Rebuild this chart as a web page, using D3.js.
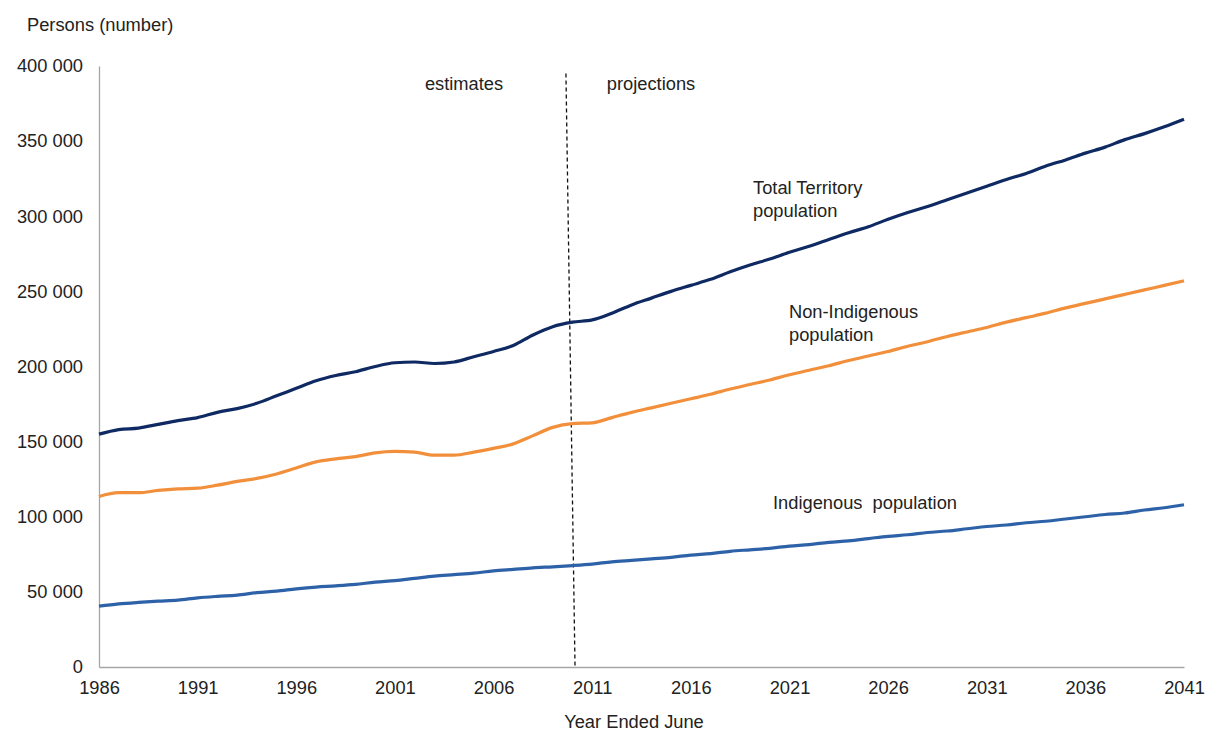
<!DOCTYPE html>
<html>
<head>
<meta charset="utf-8">
<script src="https://cdn.jsdelivr.net/npm/d3@7"></script>
<style>
  html, body { margin: 0; padding: 0; background: #fff; }
  svg { display: block; font-family: "Liberation Sans", Arial, sans-serif; }
</style>
</head>
<body>
<svg id="chart" width="1206" height="733"></svg>
<script>
// ---- data (persons, thousands) ----
const years = d3.range(1986, 2042);
const totalPop = [
  155.0, 158.0, 159.0, 161.5, 164.0, 166.0, 169.5, 172.0, 175.5, 180.5,
  185.5, 190.5, 194.0, 196.5, 200.0, 202.5, 203.0, 202.0, 203.0, 206.5,
  210.0, 214.0, 221.0, 226.5, 229.5, 231.0, 235.5, 241.0, 245.5, 250.0,
  254.0, 258.0, 263.0, 267.5, 271.5, 276.0, 280.0, 284.5, 289.0, 293.0,
  298.0, 302.5, 306.5, 311.0, 315.5, 320.0, 324.5, 328.5, 333.5, 337.5,
  342.0, 346.0, 351.0, 355.0, 359.5, 364.5
];
const nonIndigenousPop = [
  113.5, 116.0, 116.0, 117.5, 118.5, 119.0, 121.0, 123.5, 125.5, 128.5,
  132.5, 136.5, 138.5, 140.0, 142.5, 143.5, 143.0, 141.0, 141.0, 143.0,
  145.5, 148.5, 154.0, 159.5, 162.0, 162.5, 166.0, 169.5, 172.5, 175.5,
  178.5, 181.5, 185.0, 188.0, 191.0, 194.5, 197.5, 200.5, 204.0, 207.0,
  210.0, 213.5, 216.5, 220.0, 223.0, 226.0, 229.5, 232.5, 235.5, 239.0,
  242.0, 245.0, 248.0, 251.0, 254.0, 257.0
];
const indigenousPop = [
  40.5, 42.0, 43.0, 43.8, 44.5, 46.0, 47.0, 47.8, 49.5, 50.5,
  52.0, 53.2, 54.0, 55.0, 56.5, 57.5, 59.0, 60.5, 61.5, 62.5,
  64.0, 65.0, 66.0, 66.7, 67.5, 68.5, 70.0, 71.0, 72.0, 73.0,
  74.5, 75.5, 77.0, 78.0, 79.0, 80.5, 81.5, 83.0, 84.0, 85.5,
  87.0, 88.0, 89.5, 90.5, 92.0, 93.5, 94.5, 96.0, 97.0, 98.5,
  100.0, 101.5, 102.5, 104.5, 106.0, 108.0
];
const xTickYears = [1986, 1991, 1996, 2001, 2006, 2011, 2016, 2021, 2026, 2031, 2036, 2041];
const yTicks = [0, 50000, 100000, 150000, 200000, 250000, 300000, 350000, 400000];
const dividerYears = [2009.67, 2010.13]; // top, bottom of the estimates/projections divider

const series = [
  { name: "Total", values: totalPop, color: "#0f2a63" },
  { name: "Non-Indigenous", values: nonIndigenousPop, color: "#f28f3b" },
  { name: "Indigenous", values: indigenousPop, color: "#2e62a8" }
];

// ---- layout ----
const svg = d3.select("#chart");
const plotLeft = 99, plotRight = 1184, plotTop = 66, plotBottom = 667;
const FS = 18.3;

const x = d3.scaleLinear().domain([1986, 2041]).range([plotLeft, plotRight]);
const y = d3.scaleLinear().domain([0, 400000]).range([plotBottom, plotTop]);

const fmt = v => d3.format(",")(v).replace(/,/g, " ");

// y axis
const yAxis = svg.append("g").attr("transform", `translate(${plotLeft},0)`)
  .call(d3.axisLeft(y).tickValues(yTicks).tickSize(0).tickPadding(16).tickFormat(fmt));
yAxis.select(".domain").attr("stroke", "#a6a6a6").attr("stroke-width", 1.3);
yAxis.selectAll("text").attr("font-size", FS).attr("fill", "#222")
  .attr("font-family", "'Liberation Sans', Arial, sans-serif");

// x axis
const xAxis = svg.append("g").attr("transform", `translate(0,${plotBottom})`)
  .call(d3.axisBottom(x).tickValues(xTickYears).tickSize(0).tickPadding(14).tickFormat(d3.format("d")));
xAxis.select(".domain").attr("stroke", "#a6a6a6").attr("stroke-width", 1.3);
xAxis.selectAll("text").attr("font-size", FS).attr("fill", "#222")
  .attr("font-family", "'Liberation Sans', Arial, sans-serif");

// divider
svg.append("line")
  .attr("x1", x(dividerYears[0])).attr("y1", y(395000))
  .attr("x2", x(dividerYears[1])).attr("y2", y(0))
  .attr("stroke", "#111").attr("stroke-width", 1.3).attr("stroke-dasharray", "4,3");

// lines
const line = d3.line()
  .x((d, i) => x(years[i]))
  .y(d => y(d * 1000))
  .curve(d3.curveMonotoneX);

svg.append("g").selectAll("path").data(series).join("path")
  .attr("d", s => line(s.values))
  .attr("fill", "none")
  .attr("stroke", s => s.color)
  .attr("stroke-width", 3.2)
  .attr("stroke-linejoin", "round");

// texts
const txt = (str, tx, ty, anchor = "start") =>
  svg.append("text").attr("x", tx).attr("y", ty).attr("text-anchor", anchor)
    .attr("font-size", FS).attr("fill", "#222").style("white-space", "pre").text(str);

txt("Persons (number)", 27, 31);
txt("Year Ended June", 634, 728, "middle");
txt("estimates", 464, 90, "middle");
txt("projections", 651, 90, "middle");
txt("Total Territory", 753, 194);
txt("population", 753, 217);
txt("Non-Indigenous", 789, 318);
txt("population", 789, 341);
txt("Indigenous  population", 773, 509);
</script>
</body>
</html>
